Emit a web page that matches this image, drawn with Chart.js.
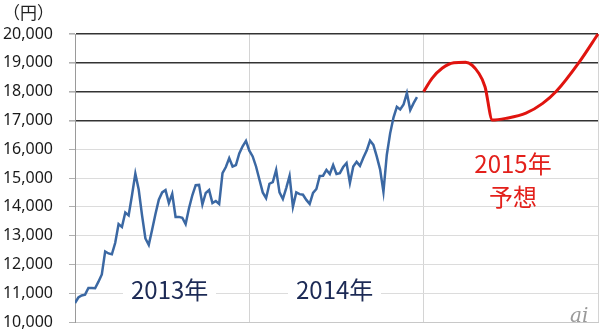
<!DOCTYPE html>
<html>
<head>
<meta charset="utf-8">
<script src="https://cdn.jsdelivr.net/npm/chart.js@4"></script>
<style>
	html, body { margin: 0; padding: 0; background: #fff; }
	#wrap { position: relative; width: 600px; height: 333px; }
	.note { position: absolute; font-family: 'Noto Sans CJK JP', 'Noto Sans', sans-serif; white-space: nowrap; }
	.year { top: 274px; font-size: 24px; line-height: 30px; color: #1c2a55; background: #fff; padding: 0 8px; }
	.forecast { left: 513px; top: 146px; transform: translateX(-50%); font-size: 24px; line-height: 33px; color: #e3201b; text-align: center; }
	.unit { left: 3px; top: 0px; font-size: 17px; line-height: 24px; color: #222; }
	.logo { left: 570px; top: 303px; font-family: 'DejaVu Serif', serif; font-style: italic; font-size: 20px; color: #9a9a9a; }
</style>
</head>
<body>
<div id="wrap">
	<canvas id="chart" width="600" height="333"></canvas>
	<div class="note unit">（円）</div>
	<div class="note year" style="left:123px">2013年</div>
	<div class="note year" style="left:288px">2014年</div>
	<div class="note forecast">2015年<br>予想</div>
	<div class="note logo">ai</div>
</div>
<script>
// 週ごとの終値（2013年1月〜2014年12月）
const weeklyValues = [
	10660, 10850, 10920, 10950, 11180, 11180, 11170, 11400, 11650, 12450,
	12380, 12350, 12750, 13400, 13300, 13800, 13700, 14400, 15150, 14600,
	13700, 12900, 12680, 13200, 13750, 14250, 14500, 14580, 14130, 14450,
	13650, 13650, 13620, 13400, 13950, 14400, 14750, 14760, 14080, 14480,
	14580, 14130, 14200, 14100, 15170, 15380, 15690, 15400, 15450, 15850,
	16100, 16290, 15950, 15750, 15400, 14950, 14500, 14300, 14800, 14860,
	15280, 14500, 14270, 14650, 15070, 14000, 14500, 14440, 14420, 14240,
	14100, 14480, 14620, 15070, 15080, 15280, 15140, 15450, 15140, 15170,
	15380, 15520, 14830, 15400, 15560, 15420, 15700, 15950, 16300, 16150,
	15750, 15300, 14520, 15800, 16550, 17100, 17470, 17380, 17550, 17950,
	17360, 17600, 17810,
];

// 2015年予想（週番号と値）
const forecastWeeks = [104, 106.5, 109.5, 113, 116.5, 120.5, 122.3, 124.5, 128.5, 134.5, 139.5, 143.5, 150.5, 156];
const forecastValues = [18000, 18460, 18810, 19000, 19020, 18630, 18170, 17010, 17070, 17250, 17590, 18000, 19040, 20000];

const yearWeeks = [0, 52, 104, 156];

const config = {
	type: 'line',
	data: {
		datasets: [
			{
				data: weeklyValues.map((v, i) => ({ x: i, y: v })),
				borderColor: '#3b68a3',
				borderWidth: 2.5,
				pointRadius: 0,
				tension: 0,
			},
			{
				data: forecastValues.map((v, i) => ({ x: forecastWeeks[i], y: v })),
				borderColor: '#e0140f',
				borderWidth: 3,
				pointRadius: 0,
				cubicInterpolationMode: 'monotone',
				clip: false,
			},
		],
	},
	options: {
		animation: false,
		responsive: false,
		layout: { padding: { top: 34, right: 2, bottom: 11, left: 0 } },
		plugins: { legend: { display: false }, tooltip: { enabled: false } },
		scales: {
			x: {
				type: 'linear',
				min: 0,
				max: 156,
				afterBuildTicks: (scale) => {
					scale.ticks = yearWeeks.map((w) => ({ value: w }));
				},
				afterFit: (scale) => {
					scale.height = 0;
					scale.paddingLeft = 0;
					scale.paddingRight = 0;
				},
				ticks: { display: false },
				grid: { color: '#d4d4d4', drawTicks: false },
				border: { color: '#c8c8c8' },
			},
			y: {
				min: 10000,
				max: 20000,
				afterFit: (scale) => {
					scale.width = 75;
					scale.paddingTop = 0;
					scale.paddingBottom = 0;
				},
				ticks: {
					stepSize: 1000,
					padding: 16,
					color: '#1a1a1a',
					font: { family: 'Noto Sans', size: 16 },
					callback: (v) => v.toLocaleString('en-US'),
				},
				grid: {
					color: (ctx) => (ctx.tick && ctx.tick.value >= 17000 ? '#333' : '#dcdcdc'),
					lineWidth: (ctx) => (ctx.tick && ctx.tick.value >= 17000 ? 1.6 : 1),
					tickColor: '#b0b0b0',
					tickLength: 6,
				},
				border: { color: '#9a9a9a' },
			},
		},
	},
};

new Chart(document.getElementById('chart'), config);
</script>
</body>
</html>
